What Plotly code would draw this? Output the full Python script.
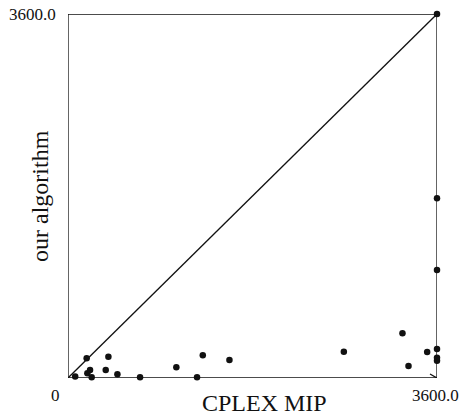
import plotly.graph_objects as go

# Data (seconds)
cplex_mip = [70, 182, 189, 215, 231, 394, 368, 482, 703, 1057, 1315, 1575, 1259,
             2691, 3263, 3322, 3504, 3600, 3600, 3600, 3600, 3600, 3600]
our_algorithm = [15, 195, 46, 79, 8, 211, 79, 36, 7, 106, 224, 178, 8,
                 260, 442, 119, 257, 287, 201, 171, 1068, 1777, 3600]
axis_max = 3600.0
x_tick_labels = ["0", "3600.0"]
y_tick_labels = ["3600.0"]
x_title = "CPLEX MIP"
y_title = "our algorithm"

FONT = "Liberation Serif"
INK = "#111111"

fig = go.Figure()

# diagonal reference line
fig.add_trace(go.Scatter(x=[0, axis_max], y=[0, axis_max], mode="lines",
                         line=dict(color=INK, width=1.3), hoverinfo="skip",
                         showlegend=False))

fig.add_trace(go.Scatter(x=cplex_mip, y=our_algorithm, mode="markers",
                         marker=dict(color=INK, size=6.5), cliponaxis=False,
                         showlegend=False))

fig.update_layout(
    width=467, height=415,
    margin=dict(l=68, r=30, t=14, b=37),
    paper_bgcolor="white", plot_bgcolor="white",
    font=dict(family=FONT, color=INK),
    xaxis=dict(range=[0, axis_max], showgrid=False, zeroline=False,
               showticklabels=False, ticks="", showline=False, fixedrange=True),
    yaxis=dict(range=[0, axis_max], showgrid=False, zeroline=False,
               showticklabels=False, ticks="", showline=False, fixedrange=True),
)

# frame
frame = dict(color=INK, width=1.3)
fig.add_shape(type="line", xref="x", yref="y", x0=0, y0=0, x1=axis_max, y1=0, line=frame)
fig.add_shape(type="line", xref="x", yref="y", x0=0, y0=0, x1=0, y1=axis_max, line=frame)
fig.add_shape(type="line", xref="x", yref="y", x0=0, y0=axis_max, x1=axis_max, y1=axis_max, line=frame)
fig.add_shape(type="line", xref="x", yref="y", x0=axis_max, y0=0, x1=axis_max, y1=axis_max, line=frame)
# arrowhead on x-axis
fig.add_shape(type="path", xref="x", yref="y", xsizemode="pixel", ysizemode="pixel",
              xanchor=axis_max, yanchor=0, path="M -7 4 L 0 0 L -7 -4",
              line=frame)

# tick labels
tick_font = dict(size=17, family=FONT, color=INK)
fig.add_annotation(x=0, y=0, xref="x", yref="y", text=x_tick_labels[0], showarrow=False,
                   xanchor="center", yanchor="middle",
                   xshift=-13, yshift=-17, font=tick_font)
fig.add_annotation(x=axis_max, y=0, xref="x", yref="y", text=x_tick_labels[1], showarrow=False,
                   xanchor="center", yanchor="middle",
                   xshift=-2, yshift=-17, font=tick_font)
fig.add_annotation(x=0, y=axis_max, xref="x", yref="y", text=y_tick_labels[0], showarrow=False,
                   xanchor="right", yanchor="middle", xshift=-10, yshift=0, font=tick_font)

# axis titles
title_font = dict(size=24, family=FONT, color=INK)
fig.add_annotation(x=0.5, y=0, xref="paper", yref="paper", text=x_title, showarrow=False,
                   xanchor="center", yanchor="middle",
                   xshift=12, yshift=-25, font=title_font)
fig.add_annotation(x=0, y=0.5, xref="paper", yref="paper", text=y_title, showarrow=False,
                   xanchor="center", yanchor="middle",
                   textangle=-90, xshift=-28, font=title_font)

fig.write_html("out.html")
